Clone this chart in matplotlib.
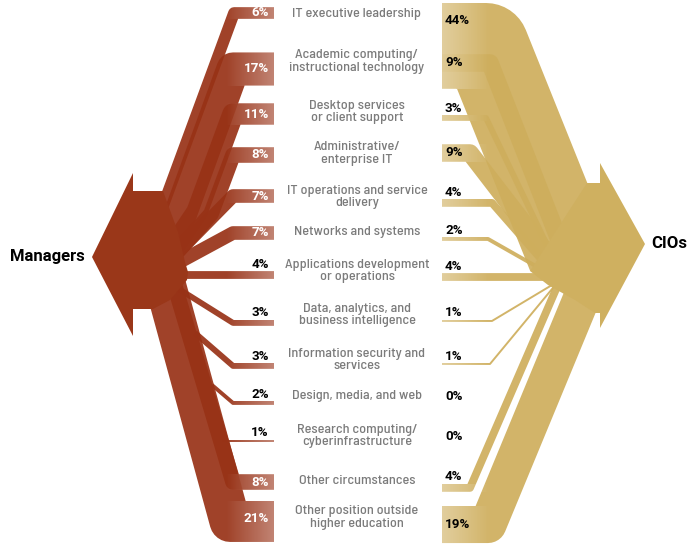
import numpy as np
import matplotlib
matplotlib.use("Agg")
import matplotlib.pyplot as plt
from matplotlib import font_manager
from matplotlib.patches import Polygon
from matplotlib.path import Path

# data
categories = [
    "IT executive leadership",
    "Academic computing/\ninstructional technology",
    "Desktop services\nor client support",
    "Administrative/\nenterprise IT",
    "IT operations and service\ndelivery",
    "Networks and systems",
    "Applications development\nor operations",
    "Data, analytics, and\nbusiness intelligence",
    "Information security and\nservices",
    "Design, media, and web",
    "Research computing/\ncyberinfrastructure",
    "Other circumstances",
    "Other position outside\nhigher education",
]
managers_pct = [6, 17, 11, 8, 7, 7, 4, 3, 3, 2, 1, 8, 21]
cios_pct = [44, 9, 3, 9, 4, 2, 4, 1, 1, 0, 0, 4, 19]

# layout, in pixels of the 700x546 canvas
W, H = 700, 546
PX = 1.95           # pixels per percent
row_y = [14, 61.5, 112, 153.5, 197, 232, 271, 315, 360, 396, 436, 481, 517.5]
mgr_lab_y = [13, 69, 114, 155, 196, 233, 264, 313, 356, 394, 433, 482, 519]
cio_lab_y = [21, 63, 108, 153, 192, 230, 266, 313, 356, 397, 436, 477, 524]
mgr_edge, cio_edge = 274, 442
# waypoints of each flow's centre line after the bar (None = stay on the bar's y)
mgr_route = [
    [(234, None), (160, 214)],
    [(233, None), (181, 212), (165, 250)],
    [(233, None), (197, 212), (168, 255)],
    [(233, None), (211, 214), (170, 260)],
    [(233, None), (172, 258)],
    [(233, None), (172, 266)],
    [(170, None)],
    [(233, None), (190, 296), (172, 285)],
    [(233, None), (195, 333)],
    [(233, None), (212, 385)],
    [(222, None)],
    [(233, None), (170, 270)],
    [(230, None), (160, 265)],
]
cio_route = [
    [(486, None), (570, 255)],
    [(490, None), (565, 255)],
    [(486, None), (558, 268)],
    [(470, None), (560, 270)],
    [(492, None), (556, 276)],
    [(488, None), (555, 277)],
    [(552, None)],
    [(492, None), (557, 282)],
    [(490, None), (557, 283)],
    None,
    None,
    [(470, None), (560, 280)],
    [(488, None), (585, 290)],
]

mgr_col = (152/255, 50/255, 22/255)
mgr_dark = "#9a3719"
cio_col = (206/255, 174/255, 92/255)
cio_dark = "#cfb060"


def pick(cands):
    installed = {f.name for f in font_manager.fontManager.ttflist}
    return [next(f for f in cands + ["DejaVu Sans"] if f in installed), "DejaVu Sans"]


LABEL_FONT = pick(["Barlow Semi Condensed", "Roboto Condensed", "Archivo Narrow"])
NUM_FONT = pick(["Roboto", "Liberation Sans"])

fig = plt.figure(figsize=(7, 5.46), dpi=100)
ax = fig.add_axes([0, 0, 1, 1])
ax.set_xlim(0, W)
ax.set_ylim(H, 0)
ax.axis("off")


def bar_top(lab_y, v):
    w = v * PX
    if v >= 5:
        return lab_y - min(w / 2, 18)
    return lab_y + 7


def draw_side(vals, lab_y, edge, routes, col, sign):
    rects = []
    for v, ly, route in zip(vals, lab_y, routes):
        if v == 0 or route is None:
            continue
        w = v * PX
        yc = bar_top(ly, v) + w / 2
        xs, ys = [edge], [yc]
        for px, py in route:
            xs.append(px)
            ys.append(yc if py is None else py)
        ax.plot(xs, ys, color=col, alpha=0.92, lw=w * 0.72,
                solid_joinstyle="round", solid_capstyle="butt", zorder=2)
        rects.append((yc - w / 2, yc + w / 2))
    # light gradient at the outer end of the bars
    rects.sort()
    merged = []
    for a, b in rects:
        if merged and a <= merged[-1][1]:
            merged[-1][1] = max(merged[-1][1], b)
        else:
            merged.append([a, b])
    x0, x1 = (edge - 48, edge) if sign < 0 else (edge, edge + 48)
    verts, codes = [], []
    for a, b in merged:
        verts += [(x0, a), (x1, a), (x1, b), (x0, b), (x0, a)]
        codes += [Path.MOVETO, Path.LINETO, Path.LINETO, Path.LINETO, Path.CLOSEPOLY]
    ramp = np.linspace(0, 0.35, 64)
    if sign > 0:
        ramp = ramp[::-1]
    grad = np.ones((1, 64, 4))
    grad[0, :, 3] = ramp
    im = ax.imshow(grad, extent=[x0, x1, H, 0], aspect="auto",
                   interpolation="bilinear", zorder=4)
    im.set_clip_path(Path(verts, codes), ax.transData)


draw_side(managers_pct, mgr_lab_y, mgr_edge, mgr_route, mgr_col, -1)
draw_side(cios_pct, cio_lab_y, cio_edge, cio_route, cio_col, 1)

# arrow heads
ax.add_patch(Polygon([(92, 257), (133, 173), (133, 191), (163, 191), (178, 232), (185, 262),
                      (188, 272), (187, 280), (170, 300), (153, 309), (133, 309), (133, 336)],
                     closed=True, facecolor=mgr_dark, edgecolor="none", zorder=3))
ax.add_patch(Polygon([(645, 244), (600, 163), (600, 183), (587, 183), (530, 271), (548, 285),
                      (575, 300), (595, 313), (600, 313), (600, 328)],
                     closed=True, facecolor=cio_dark, edgecolor="none", zorder=3))

# texts
for cat, y in zip(categories, row_y):
    ax.text(357, y, cat, ha="center", va="center", fontsize=10.2, color="#7b7b7b",
            family=LABEL_FONT, fontweight="medium", linespacing=1.08, zorder=5)

for v, ly in zip(managers_pct, mgr_lab_y):
    ax.text(269, ly, f"{v}%", ha="right", va="center", fontsize=9.6, fontweight="bold",
            family=NUM_FONT, color="white" if v >= 5 else "black", zorder=5)

for v, ly in zip(cios_pct, cio_lab_y):
    ax.text(445, ly, f"{v}%", ha="left", va="center", fontsize=9.6, fontweight="bold",
            family=NUM_FONT, color="black", zorder=5)

ax.text(10, 256, "Managers", ha="left", va="center", fontsize=12, fontweight="bold",
        family=NUM_FONT, color="black")
ax.text(651, 243, "CIOs", ha="left", va="center", fontsize=12, fontweight="bold",
        family=NUM_FONT, color="black")

fig.savefig("out.png", dpi=100)
